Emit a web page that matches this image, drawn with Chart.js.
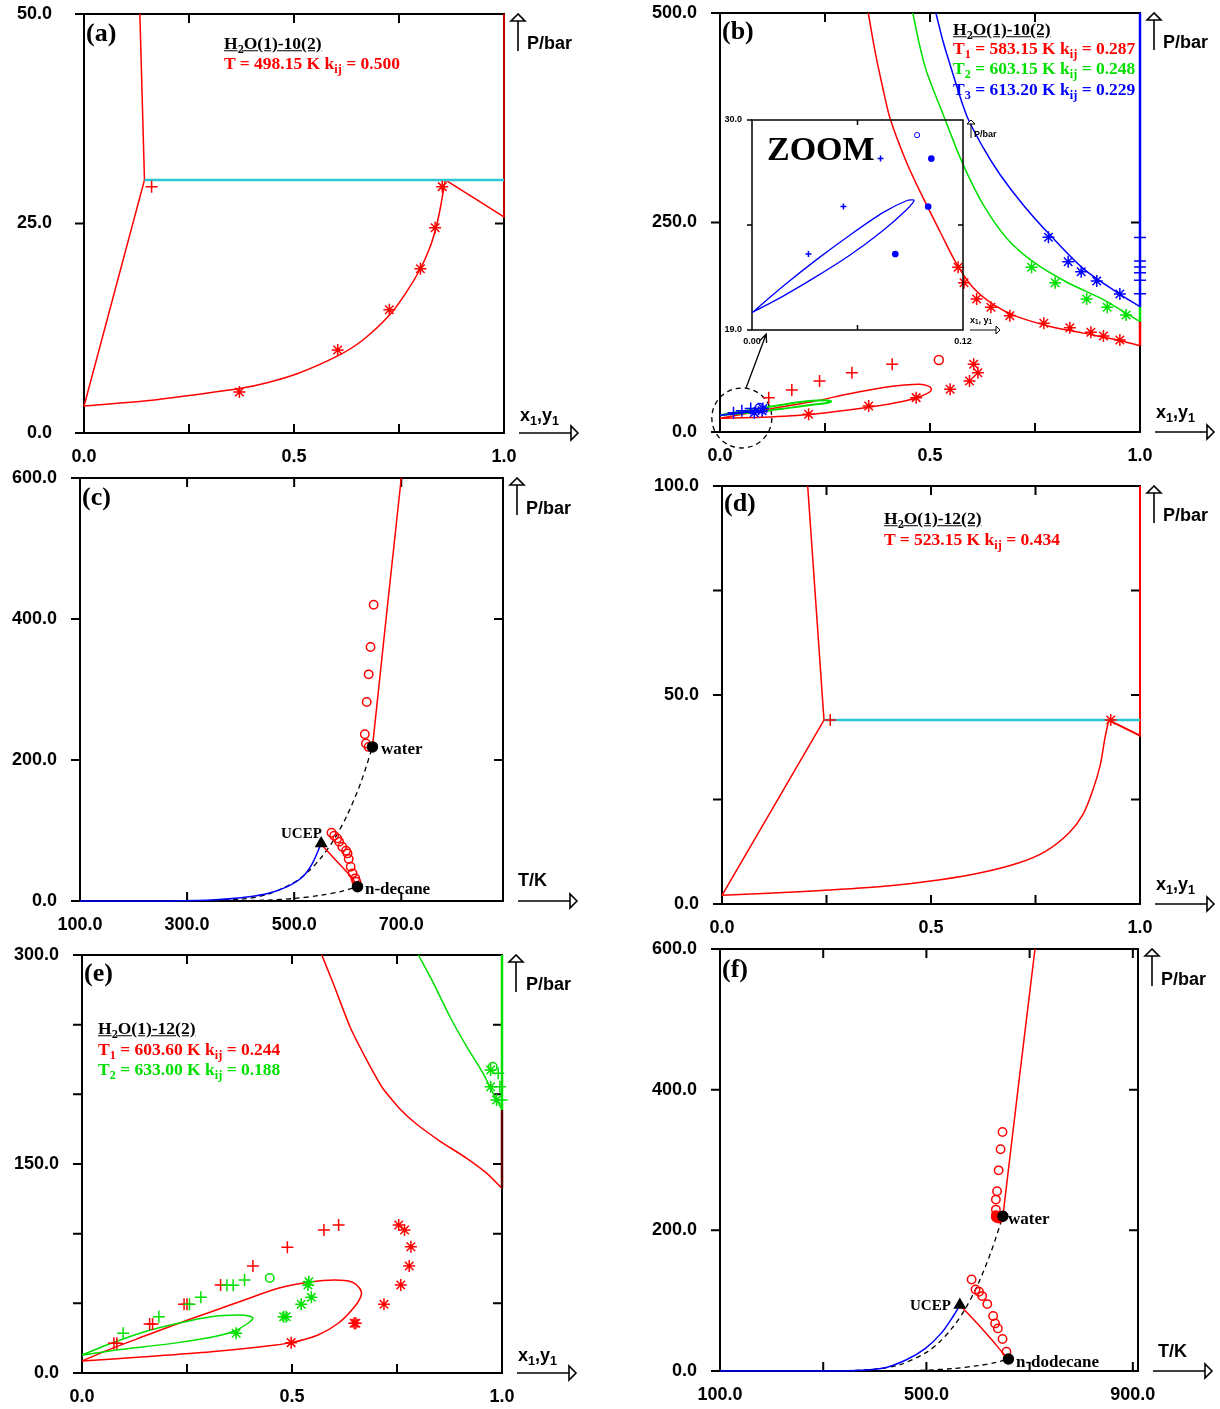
<!DOCTYPE html>
<html lang="en">
<head>
<meta charset="utf-8">
<script src="https://cdn.jsdelivr.net/npm/chart.js@4.4.1/dist/chart.umd.min.js"></script>
<title>H2O - n-alkane phase diagrams</title>
<style>
  body { margin: 0; background: #fff; }
  #page { position: relative; width: 1220px; height: 1409px; overflow: hidden; }
  canvas { position: absolute; }
  .t { position: absolute; white-space: nowrap; transform: translateY(-50%); line-height: 1; }
  .serif { font-family: 'Liberation Serif', 'Times New Roman', serif; font-weight: bold; }
  .sans { font-family: 'Liberation Sans', Arial, sans-serif; font-weight: bold; }
  sub { font-size: 70%; vertical-align: -0.3em; line-height: 0; }
  .u { text-decoration: underline; }
</style>
</head>
<body>
<div id="page">
  <canvas id="pa"></canvas>
  <canvas id="pb"></canvas>
  <canvas id="pc"></canvas>
  <canvas id="pd"></canvas>
  <canvas id="pe"></canvas>
  <canvas id="pf"></canvas>
  <canvas id="pzoom"></canvas>
</div>
<script>
// ---- (a) H2O(1)-10(2), T = 498.15 K : x1,y1 vs P/bar
const aLeftBranch = [[0.133, 50], [0.144, 30.2], [0, 3.2]];
const aBubble = [[0, 3.2], [0.162, 3.9], [0.254, 4.5], [0.37, 5.3], [0.436, 6.0], [0.509, 7.1], [0.604, 9.2],
  [0.664, 11.1], [0.727, 14.05], [0.765, 16.6], [0.801, 19.6], [0.824, 22.2], [0.838, 24.5], [0.849, 27.0], [0.86, 30.2]];
const aRightBranch = [[0.86, 30.2], [1.0, 25.8], [1.0, 50]];
const aThreePhase = [[0.144, 30.2], [1.0, 30.2]];
const aPlus = [[0.161, 29.4]];
const aStar = [[0.37, 4.9], [0.604, 9.9], [0.727, 14.7], [0.801, 19.6], [0.836, 24.5], [0.853, 29.4]];

// ---- (b) H2O(1)-10(2), T1/T2/T3
const bRedCurve = [[0.353, 500], [0.37, 452], [0.387, 412], [0.405, 374], [0.444, 322], [0.484, 279], [0.524, 239],
  [0.564, 200], [0.603, 172], [0.651, 152], [0.706, 138], [0.786, 126], [0.865, 118], [0.944, 110], [1.0, 103]];
const bGreenCurve = [[0.459, 500], [0.475, 462], [0.492, 430], [0.532, 378], [0.579, 319], [0.627, 271], [0.683, 231],
  [0.746, 203], [0.825, 179], [0.905, 160], [0.95, 147], [1.0, 131.6]];
const bBlueCurve = [[0.514, 500], [0.53, 468], [0.548, 438], [0.587, 378], [0.627, 339], [0.667, 307], [0.722, 271],
  [0.786, 235], [0.865, 195], [0.944, 167], [1.0, 149.5]];
const bRedPure = [[1, 103], [1, 131.6]];
const bGreenPure = [[1, 131.6], [1, 149.5]];
const bBluePure = [[1, 149.5], [1, 500]];
const bRedLoop = [[0, 16.3], [0.1, 17.5], [0.219, 21.1], [0.354, 29.4], [0.44, 37], [0.48, 43], [0.5, 48], [0.503, 52],
  [0.495, 55], [0.475, 56.9], [0.44, 56], [0.394, 53.3], [0.314, 46.2], [0.219, 36.2], [0.14, 29.4], [0.06, 21.8], [0, 16.3]];
const bGreenLoop = [[0, 20], [0.05, 24.5], [0.1, 28.5], [0.16, 33.5], [0.219, 37.2], [0.25, 37.8], [0.265, 36.5],
  [0.25, 34.2], [0.219, 32.4], [0.16, 28.5], [0.1, 24.6], [0.05, 22.2], [0, 20]];
const bBlueLoop = [[0, 19.91], [0.018, 21.32], [0.0369, 22.70], [0.0558, 23.98], [0.0747, 25.16], [0.0879, 25.77],
  [0.0922, 25.79], [0.0879, 25.30], [0.0747, 24.23], [0.0558, 22.93], [0.0369, 21.82], [0.018, 20.79], [0, 19.91]];
const bRedStar = [[0.567, 196.5], [0.581, 178.2], [0.611, 158.7], [0.645, 148.8], [0.69, 138.8], [0.771, 129.7],
  [0.833, 124.5], [0.883, 119], [0.913, 114.6], [0.952, 109.8], [0.211, 21.1], [0.354, 31], [0.467, 41],
  [0.548, 51], [0.594, 60.9], [0.614, 70.8], [0.604, 80.8]];
const bRedPlus = [[0.116, 41], [0.171, 50.1], [0.237, 60.9], [0.314, 70.8], [0.41, 80.8]];
const bRedCircle = [[0.521, 85.9]];
const bGreenStar = [[0.742, 196.5], [0.798, 178.2], [0.873, 158.7], [0.922, 148.8], [0.967, 139.6]];
const bBlueStar = [[0.782, 232.3], [0.829, 203.2], [0.86, 191.3], [0.897, 180.2], [0.952, 164.7]];
const bBluePlus = [[1, 232], [1, 204], [1, 197], [1, 190], [1, 181], [1, 165]];
// low-pressure T3 points (also shown in the ZOOM inset)
const zBluePlus = [[0.0321, 22.98], [0.052, 25.47], [0.0731, 27.98]];
const zBlueDot = [[0.0815, 22.98], [0.1002, 25.47], [0.102, 27.98]];
const zBlueCircle = [[0.0939, 29.21]];

// ---- (c) H2O - n-decane, T/K vs P/bar
const cBlue = [[100, 0], [237, 0], [344, 1.4], [416, 6.1], [452, 10.9], [487, 20.3], [516, 34.5], [534, 53.3], [550.4, 81.7]];
const cWaterVP = [[100, 0], [300, 0.04], [400, 2.5], [450, 9.3], [500, 26.4], [525, 41], [550, 61.2], [575, 88],
  [600, 123.5], [625, 169], [646.2, 218.6]];
const cDecaneVP = [[350, 0.05], [400, 0.4], [450, 1.3], [500, 3.6], [550, 8.2], [590, 14], [618.3, 20.3]];
const cCritUpper = [[646.2, 218.6], [673, 410], [700, 600]];
const cCritLower = [[552, 79.3], [580.4, 55.7], [609, 32.1], [618.3, 20.3]];
const cCircles = [[648.4, 420.2], [642.6, 360.2], [639.1, 321.5], [635.5, 282.3], [631.9, 236.5], [634, 223.3],
  [639.1, 218.6], [569.7, 96.8], [574.6, 92.5], [580.4, 88.8], [584, 84], [589.8, 77], [596.9, 71.3], [599.7, 67.5],
  [601.9, 59.5], [605.5, 48.6], [609.1, 39.2], [614.1, 32.1], [616.2, 27.4]];
const cCritPoints = [[646.2, 218.6], [618.3, 20.3]];
const cUCEP = [[550.4, 81.7]];

// ---- (d) H2O(1)-12(2), T = 523.15 K
const dLeftBranch = [[0.205, 100], [0.244, 44], [0, 2.07]];
const dBubble = [[0, 2.07], [0.196, 3.0], [0.382, 4.2], [0.522, 5.8], [0.616, 7.4], [0.709, 9.8], [0.774, 12.6],
  [0.83, 17.0], [0.863, 21.3], [0.886, 26.9], [0.905, 33.3], [0.916, 39.6], [0.925, 44]];
const dRightBranch = [[0.925, 44], [1.0, 40.3], [1.0, 100]];
const dThreePhase = [[0.244, 44], [1, 44]];
const dPlus = [[0.259, 44]];
const dStar = [[0.93, 44]];

// ---- (e) H2O(1)-12(2), T1/T2
const eRedLoop = [[0, 8.6], [0.149, 11.7], [0.308, 15.3], [0.427, 18.9], [0.498, 21.8], [0.562, 27.3], [0.61, 35.7],
  [0.649, 47.6], [0.665, 56], [0.661, 60.8], [0.641, 65.5], [0.602, 66.7], [0.546, 65.5], [0.467, 60.8],
  [0.387, 52.4], [0.308, 44], [0.229, 35.5], [0.149, 26.5], [0.07, 17.5], [0, 8.6]];
const eGreenLoop = [[0, 12.9], [0.07, 21.3], [0.149, 29.6], [0.229, 35.7], [0.308, 40.4], [0.371, 41.6], [0.4, 40.8],
  [0.407, 39.3], [0.395, 35.7], [0.363, 30.1], [0.308, 25.6], [0.229, 21.8], [0.149, 18.9], [0.07, 16], [0, 12.9]];
const eRedCurve = [[0.571, 300], [0.598, 279.7], [0.638, 248.5], [0.678, 224.6], [0.717, 204], [0.757, 189.5],
  [0.797, 178.5], [0.852, 166.5], [0.916, 154.1], [0.964, 143.3], [1.0, 132.6]];
const eRedPure = [[1, 132.6], [1, 188.8]];
const eGreenCurve = [[0.801, 300], [0.837, 279.7], [0.876, 255.7], [0.916, 234.2], [0.955, 215.1], [0.979, 200.7], [1.0, 188.8]];
const eGreenPure = [[1, 188.8], [1, 300]];
const eRedPlus = [[0.076, 21.3], [0.083, 21.3], [0.161, 35.2], [0.168, 35.2], [0.243, 49.3], [0.25, 49.3],
  [0.33, 63.2], [0.407, 76.8], [0.489, 90.2], [0.576, 102.6], [0.611, 106.2]];
const eGreenPlus = [[0.098, 28.5], [0.183, 40.4], [0.256, 49.3], [0.283, 54.3], [0.345, 63], [0.36, 63],
  [0.387, 66.7], [0.991, 215.1], [0.995, 205.5], [0.999, 195.9]];
const eGreenCircle = [[0.447, 68.2], [0.978, 219.8]];
const eGreenStar = [[0.54, 65.5], [0.538, 63.2], [0.546, 54.3], [0.522, 49.3], [0.486, 40.4], [0.48, 40.4],
  [0.367, 28.5], [0.973, 217.5], [0.973, 205.5], [0.987, 195.9]];
const eRedStar = [[0.498, 21.8], [0.648, 35.7], [0.652, 35.7], [0.719, 49.3], [0.759, 63.2], [0.779, 76.8],
  [0.783, 90.6], [0.768, 102.6], [0.754, 106.2]];

// ---- (f) H2O - n-dodecane, T/K vs P/bar
const fBlue = [[100, 0], [338.9, 0], [414.7, 3.8], [460.2, 15.6], [498.1, 32.2], [528.4, 53.5], [551.2, 77.1], [564.8, 93.7]];
const fWaterVP = [[100, 0], [300, 0.04], [400, 2.5], [450, 9.3], [500, 26.4], [525, 41], [550, 61.2], [575, 88],
  [600, 123.5], [625, 169], [648.2, 220]];
const fDodecaneVP = [[400, 0.05], [450, 0.3], [500, 1.2], [550, 3.4], [600, 7.6], [630, 11.5], [658.9, 17]];
const fCritUpper = [[648.2, 220], [679, 410], [710.4, 600]];
const fCritLower = [[564.8, 93.7], [574, 86.6], [604.3, 62.9], [627, 44], [646, 27.4], [658.9, 17]];
const fCircles = [[647.5, 339.8], [643.7, 315.2], [639.9, 285.3], [636.9, 255.5], [634.6, 243.7], [634.6, 229.5],
  [634.6, 221.5], [587.6, 130.1], [595.2, 115.9], [602, 112.6], [608, 106.5], [617.9, 95.1], [629.3, 78.1],
  [633.1, 67.7], [638.4, 60.6], [647.5, 45.4], [655.1, 27.4]];
const fRedDots = [[636, 219], [640.5, 218]];
const fCritPoints = [[648.2, 220], [658.9, 17]];
const fUCEP = [[564.8, 93.7]];

// ---- axis ticks and labelled ticks
const xFracTicks = [0, 0.25, 0.5, 0.75, 1], xFracLabels = [0, 0.5, 1];
const aYTicks = [0, 25, 50], bYTicks = [0, 250, 500];
const cXTicks = [100, 300, 500, 700], cYTicks = [0, 200, 400, 600];
const dYTicks = [0, 25, 50, 75, 100], dYLabels = [0, 50, 100];
const eYTicks = [0, 50, 100, 150, 200, 250, 300], eYLabels = [0, 150, 300];
const fXTicks = [100, 300, 500, 700, 900], fXLabels = [100, 500, 900], fYTicks = [0, 200, 400, 600];
const zXTicks = [0, 0.06, 0.12], zXLabels = [0, 0.12], zYTicks = [19, 24.5, 30], zYLabels = [19, 30];

const RED = '#ff0000', GREEN = '#00e000', BLUE = '#0000ff', CYAN = '#2ac8d2';
const SANS = "'Liberation Sans', Arial, sans-serif";

const pts = a => a.map(p => ({ x: p[0], y: p[1] }));
function line(a, color, ext) {
  return Object.assign({ data: pts(a), showLine: true, borderColor: color, borderWidth: 1.5,
    pointRadius: 0, tension: 0, fill: false, clip: false }, ext);
}
function mark(a, style, color, r, ext) {
  return Object.assign({ data: pts(a), showLine: false, pointStyle: style, pointRadius: r,
    borderColor: color, backgroundColor: color, pointBorderWidth: 1.5, clip: false }, ext);
}
const hollow = { backgroundColor: 'rgba(0,0,0,0)' };

function upArrow(ctx, x, top, len, h) {
  ctx.beginPath(); ctx.moveTo(x, top + h); ctx.lineTo(x, top + len); ctx.stroke();
  ctx.beginPath(); ctx.moveTo(x, top); ctx.lineTo(x - h, top + h); ctx.lineTo(x + h, top + h); ctx.closePath();
  ctx.fillStyle = '#fff'; ctx.fill(); ctx.stroke();
}
function rightArrow(ctx, x0, y, len, h) {
  ctx.beginPath(); ctx.moveTo(x0, y); ctx.lineTo(x0 + len, y); ctx.stroke();
  ctx.beginPath(); ctx.moveTo(x0 + len + h, y); ctx.lineTo(x0 + len, y - h); ctx.lineTo(x0 + len, y + h); ctx.closePath();
  ctx.fillStyle = '#fff'; ctx.fill(); ctx.stroke();
}

const DECO = {};
const framePlugin = {
  id: 'frame',
  beforeDatasetsDraw(chart) {
    const d = DECO[chart.canvas.id];
    if (!d) return;
    const ctx = chart.ctx, a = chart.chartArea, xs = chart.scales.x, ys = chart.scales.y;
    ctx.save();
    ctx.strokeStyle = '#000';
    ctx.lineWidth = d.lw;
    ctx.strokeRect(a.left, a.top, a.right - a.left, a.bottom - a.top);
    ctx.beginPath();
    d.xt.forEach(v => {
      if (v <= xs.min || v >= xs.max) return;
      const px = xs.getPixelForValue(v);
      ctx.moveTo(px, a.top); ctx.lineTo(px, a.top + d.tl);
      ctx.moveTo(px, a.bottom); ctx.lineTo(px, a.bottom - d.tl);
    });
    d.yt.forEach(v => {
      const py = ys.getPixelForValue(v);
      ctx.moveTo(a.left - d.tl, py); ctx.lineTo(a.left, py);
      if (v > ys.min && v < ys.max) { ctx.moveTo(a.right, py); ctx.lineTo(a.right - d.tl, py); }
    });
    ctx.stroke();
    ctx.lineWidth = d.alw;
    upArrow(ctx, a.right + d.ux, a.top, d.ulen, d.head);
    rightArrow(ctx, a.right + d.rx, a.bottom, d.rlen, d.head);
    if (d.extra) d.extra(ctx, chart);
    ctx.restore();
  }
};

function axis(o, isX, size) {
  return {
    type: 'linear', min: o.min, max: o.max,
    grid: { display: false, drawTicks: false },
    border: { display: false },
    afterBuildTicks: s => { s.ticks = o.ticks.map(v => ({ value: v })); },
    afterFit: s => {
      // fixed axis band; no label overhang padding so the plot box lands exactly
      if (isX) { s.height = size; s.paddingLeft = 0; s.paddingRight = 0; }
      else { s.width = size; s.paddingTop = 0; s.paddingBottom = 0; }
    },
    ticks: {
      padding: o.pad, color: '#000', autoSkip: false, maxRotation: 0,
      font: { family: SANS, size: o.fs || 18, weight: 'bold' },
      callback: v => o.labels.some(l => Math.abs(l - v) < 1e-9) ? v.toFixed(o.dec || 1) : ''
    }
  };
}

function panel(id, box, area, xo, yo, datasets, deco) {
  const cv = document.getElementById(id);
  cv.width = box.w; cv.height = box.h;
  cv.style.left = box.x + 'px'; cv.style.top = box.y + 'px';
  DECO[id] = Object.assign({ lw: 2, tl: 9, alw: 1.6, ux: 14, ulen: 37, head: 7, rx: 15, rlen: 52, xt: xo.ticks, yt: yo.ticks }, deco);
  return new Chart(cv, {
    type: 'scatter',
    data: { datasets },
    options: {
      responsive: false, animation: false, events: [],
      layout: { autoPadding: false, padding: { left: 0, top: area.t - box.y, right: box.x + box.w - area.r, bottom: 0 } },
      plugins: { legend: { display: false }, tooltip: { enabled: false } },
      scales: { x: axis(xo, true, box.y + box.h - area.b), y: axis(yo, false, area.l - box.x) }
    },
    plugins: [framePlugin]
  });
}

const fracX = { min: 0, max: 1, ticks: xFracTicks, labels: xFracLabels, pad: 13 };

// (a)
panel('pa', { x: 0, y: 0, w: 610, h: 470 }, { l: 84, t: 14, r: 504, b: 433 }, fracX,
  { min: 0, max: 50, ticks: aYTicks, labels: aYTicks, pad: 32 },
  [
    mark(aPlus, 'cross', RED, 6),
    mark(aStar, 'star', RED, 6),
    line(aThreePhase, CYAN, { borderWidth: 2.5 }),
    line(aLeftBranch, RED),
    line(aBubble, RED, { tension: 0.25 }),
    line(aRightBranch, RED)
  ], {});

// (b)
const zoomMarker = (ctx, chart) => {
  const xs = chart.scales.x, ys = chart.scales.y;
  ctx.lineWidth = 1.3; ctx.strokeStyle = '#000';
  ctx.setLineDash([5, 4]);
  ctx.beginPath(); ctx.arc(xs.getPixelForValue(0.052), ys.getPixelForValue(16.7), 30, 0, Math.PI * 2); ctx.stroke();
  ctx.setLineDash([]);
  const x0 = xs.getPixelForValue(0.062), y0 = ys.getPixelForValue(52.5);
  const x1 = xs.getPixelForValue(0.11), y1 = ys.getPixelForValue(117);
  const an = Math.atan2(y1 - y0, x1 - x0);
  ctx.beginPath(); ctx.moveTo(x0, y0); ctx.lineTo(x1, y1);
  ctx.moveTo(x1 - 9 * Math.cos(an - 0.4), y1 - 9 * Math.sin(an - 0.4)); ctx.lineTo(x1, y1);
  ctx.lineTo(x1 - 9 * Math.cos(an + 0.4), y1 - 9 * Math.sin(an + 0.4));
  ctx.stroke();
};
panel('pb', { x: 610, y: 0, w: 610, h: 470 }, { l: 720, t: 13, r: 1140, b: 432 }, fracX,
  { min: 0, max: 500, ticks: bYTicks, labels: bYTicks, pad: 23 },
  [
    mark(zBluePlus, 'cross', BLUE, 6),
    mark(zBlueDot, 'star', BLUE, 6),
    mark(zBlueCircle, 'circle', BLUE, 4, hollow),
    mark(bBluePlus, 'cross', BLUE, 6),
    mark(bBlueStar, 'star', BLUE, 6),
    mark(bGreenStar, 'star', GREEN, 6),
    mark(bRedStar, 'star', RED, 6),
    mark(bRedPlus, 'cross', RED, 6),
    mark(bRedCircle, 'circle', RED, 4.5, hollow),
    line(bBlueLoop, BLUE, { tension: 0.3 }),
    line(bGreenLoop, GREEN, { tension: 0.3, borderWidth: 2 }),
    line(bRedLoop, RED, { tension: 0.3 }),
    line(bBluePure, BLUE, { borderWidth: 2.5 }),
    line(bGreenPure, GREEN, { borderWidth: 2.5 }),
    line(bRedPure, RED, { borderWidth: 2.5 }),
    line(bBlueCurve, BLUE, { tension: 0.3 }),
    line(bGreenCurve, GREEN, { tension: 0.3 }),
    line(bRedCurve, RED, { tension: 0.3 })
  ], { extra: zoomMarker });

// ZOOM inset of (b)
panel('pzoom', { x: 712, y: 108, w: 300, h: 245 }, { l: 752, t: 120, r: 963, b: 330 },
  { min: 0, max: 0.12, ticks: zXTicks, labels: zXLabels, pad: 6, fs: 9, dec: 2 },
  { min: 19, max: 30, ticks: zYTicks, labels: zYLabels, pad: 10, fs: 9 },
  [
    mark(zBluePlus, 'cross', BLUE, 3, { clip: 0 }),
    mark(zBlueDot, 'circle', BLUE, 2.6, { clip: 0 }),
    mark(zBlueCircle, 'circle', BLUE, 2.6, Object.assign({ clip: 0, pointBorderWidth: 1 }, hollow)),
    line(bBlueLoop, BLUE, { tension: 0.3, clip: 0, borderWidth: 1.3 })
  ], { lw: 1.5, tl: 5, alw: 1, ux: 8, ulen: 18, head: 4, rx: 7, rlen: 26 });

// (c)
panel('pc', { x: 0, y: 465, w: 610, h: 475 }, { l: 80, t: 478, r: 503, b: 901 },
  { min: 100, max: 890, ticks: cXTicks, labels: cXTicks, pad: 13 },
  { min: 0, max: 600, ticks: cYTicks, labels: cYTicks, pad: 23 },
  [
    mark(cUCEP, 'triangle', '#000', 6),
    mark(cCritPoints, 'circle', '#000', 5),
    mark(cCircles, 'circle', RED, 4.2, hollow),
    line(cBlue, BLUE, { tension: 0.3 }),
    line(cCritUpper, RED, { tension: 0.2 }),
    line(cCritLower, RED, { tension: 0.2 }),
    line(cWaterVP, '#000', { tension: 0.3, borderDash: [5, 4], borderWidth: 1.3 }),
    line(cDecaneVP, '#000', { tension: 0.3, borderDash: [5, 4], borderWidth: 1.3 })
  ], {});

// (d)
panel('pd', { x: 610, y: 470, w: 610, h: 470 }, { l: 722, t: 486, r: 1140, b: 904 }, fracX,
  { min: 0, max: 100, ticks: dYTicks, labels: dYLabels, pad: 23 },
  [
    mark(dPlus, 'cross', RED, 6),
    mark(dStar, 'star', RED, 6),
    line(dThreePhase, CYAN, { borderWidth: 2.5 }),
    line(dLeftBranch, RED),
    line(dBubble, RED, { tension: 0.25 }),
    line(dRightBranch, RED, { borderWidth: 2 })
  ], {});

// (e)
panel('pe', { x: 0, y: 940, w: 610, h: 469 }, { l: 82, t: 955, r: 502, b: 1373 }, fracX,
  { min: 0, max: 300, ticks: eYTicks, labels: eYLabels, pad: 23 },
  [
    mark(eGreenPlus, 'cross', GREEN, 6),
    mark(eGreenStar, 'star', GREEN, 6),
    mark(eGreenCircle, 'circle', GREEN, 4.2, hollow),
    mark(eRedPlus, 'cross', RED, 6),
    mark(eRedStar, 'star', RED, 6),
    line(eGreenLoop, GREEN, { tension: 0.3 }),
    line(eRedLoop, RED, { tension: 0.3 }),
    line(eGreenPure, GREEN, { borderWidth: 2.5 }),
    line(eRedPure, '#5a0000', { borderWidth: 2.5 }),
    line(eGreenCurve, GREEN, { tension: 0.2 }),
    line(eRedCurve, RED, { tension: 0.15 })
  ], {});

// (f)
panel('pf', { x: 610, y: 935, w: 610, h: 474 }, { l: 720, t: 949, r: 1138, b: 1371 },
  { min: 100, max: 910, ticks: fXTicks, labels: fXLabels, pad: 13 },
  { min: 0, max: 600, ticks: fYTicks, labels: fYTicks, pad: 23 },
  [
    mark(fUCEP, 'triangle', '#000', 6),
    mark(fCritPoints, 'circle', '#000', 5),
    mark(fRedDots, 'circle', RED, 5),
    mark(fCircles, 'circle', RED, 4.2, hollow),
    line(fBlue, BLUE, { tension: 0.3 }),
    line(fCritUpper, RED, { tension: 0.2 }),
    line(fCritLower, RED, { tension: 0.2 }),
    line(fWaterVP, '#000', { tension: 0.3, borderDash: [5, 4], borderWidth: 1.3 }),
    line(fDodecaneVP, '#000', { tension: 0.3, borderDash: [5, 4], borderWidth: 1.3 })
  ], {});

// ---- text overlays
const page = document.getElementById('page');
function txt(html, x, yc, cls, size, color) {
  const d = document.createElement('div');
  d.className = 't ' + cls;
  d.innerHTML = html;
  d.style.left = x + 'px'; d.style.top = yc + 'px';
  d.style.fontSize = size + 'px'; d.style.color = color || '#000';
  page.appendChild(d);
}
const kij = 'k<sub>ij</sub>';
// panel letters, axis names
[['(a)', 86, 33], ['(b)', 722, 31], ['(c)', 82, 497], ['(d)', 724, 503], ['(e)', 84, 973], ['(f)', 722, 969]]
  .forEach(p => txt(p[0], p[1], p[2], 'serif', 26));
[[527, 43], [1163, 42], [526, 508], [1163, 515], [526, 984], [1161, 979]].forEach(p => txt('P/bar', p[0], p[1], 'sans', 18));
[[520, 415, 'x<sub>1</sub>,y<sub>1</sub>'], [1156, 412, 'x<sub>1</sub>,y<sub>1</sub>'], [518, 880, 'T/K'],
 [1156, 884, 'x<sub>1</sub>,y<sub>1</sub>'], [518, 1355, 'x<sub>1</sub>,y<sub>1</sub>'], [1158, 1351, 'T/K']]
  .forEach(p => txt(p[2], p[0], p[1], 'sans', 18));
// (a)
txt('H<sub>2</sub>O(1)-10(2)', 224, 44, 'serif u', 17.5);
txt('T = 498.15 K ' + kij + ' = 0.500', 224, 64, 'serif', 17.5, RED);
// (b)
txt('H<sub>2</sub>O(1)-10(2)', 953, 30, 'serif u', 17.5);
txt('T<sub>1</sub> = 583.15 K ' + kij + ' = 0.287', 953, 49, 'serif', 17.5, RED);
txt('T<sub>2</sub> = 603.15 K ' + kij + ' = 0.248', 953, 69, 'serif', 17.5, GREEN);
txt('T<sub>3</sub> = 613.20 K ' + kij + ' = 0.229', 953, 90, 'serif', 17.5, BLUE);
txt('ZOOM', 767, 149, 'serif', 34);
txt('P/bar', 974, 134, 'sans', 9);
txt('x<sub>1</sub>, y<sub>1</sub>', 970, 320, 'sans', 9);
// (c)
txt('water', 381, 748, 'serif', 17);
txt('UCEP', 281, 833, 'serif', 15);
txt('n-decane', 365, 888, 'serif', 17);
// (d)
txt('H<sub>2</sub>O(1)-12(2)', 884, 519, 'serif u', 17.5);
txt('T = 523.15 K ' + kij + ' = 0.434', 884, 540, 'serif', 17.5, RED);
// (e)
txt('H<sub>2</sub>O(1)-12(2)', 98, 1029, 'serif u', 17.5);
txt('T<sub>1</sub> = 603.60 K ' + kij + ' = 0.244', 98, 1050, 'serif', 17.5, RED);
txt('T<sub>2</sub> = 633.00 K ' + kij + ' = 0.188', 98, 1070, 'serif', 17.5, GREEN);
// (f)
txt('water', 1008, 1218, 'serif', 17);
txt('UCEP', 910, 1305, 'serif', 15);
txt('n-dodecane', 1016, 1361, 'serif', 17);
</script>
</body>
</html>
